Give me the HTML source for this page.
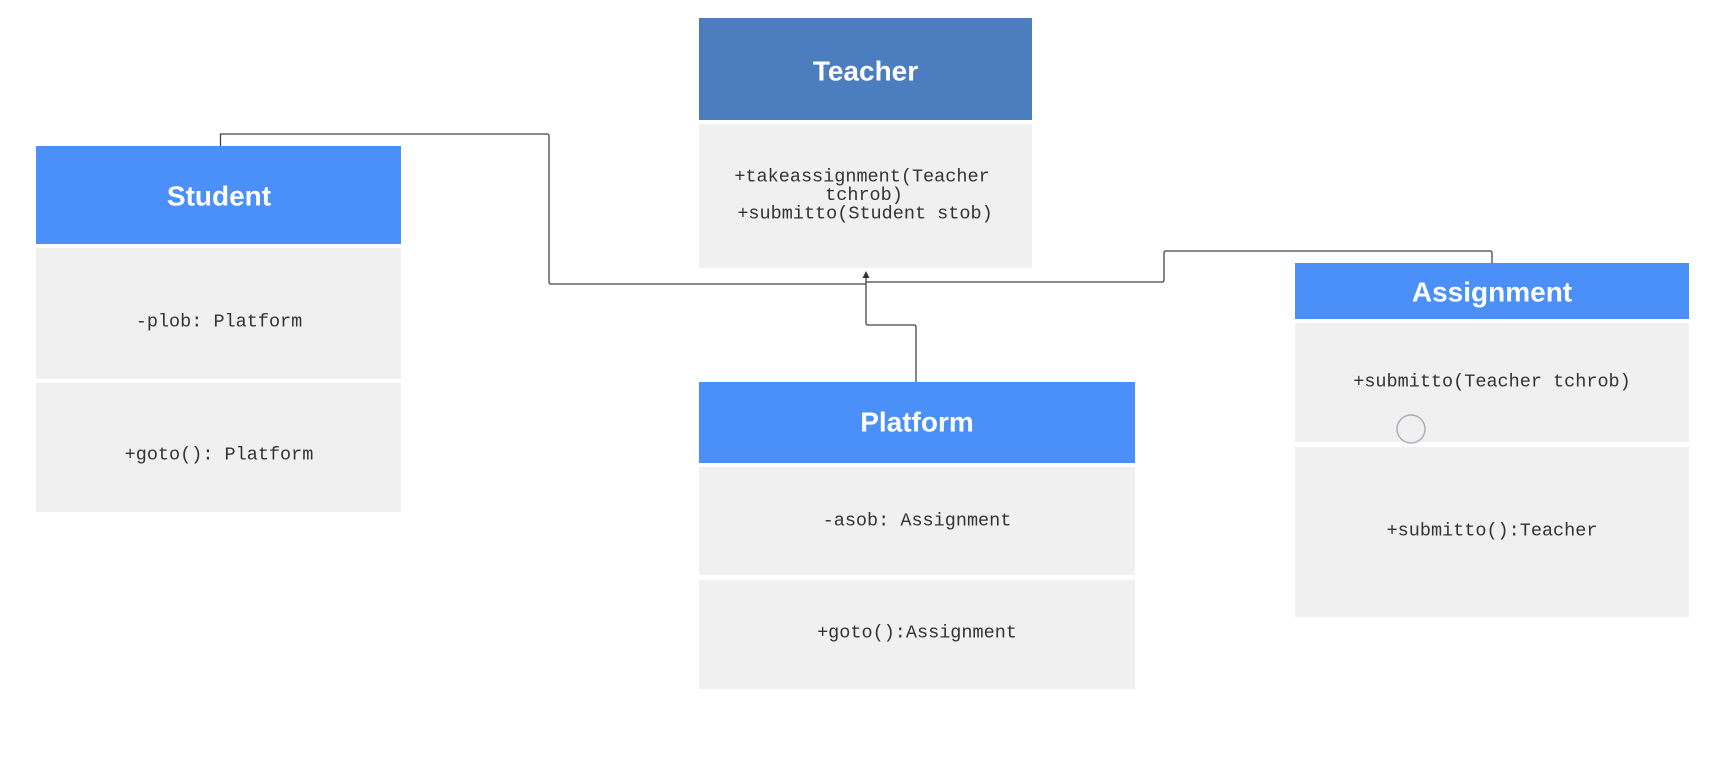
<!DOCTYPE html>
<html><head><meta charset="utf-8"><style>
html,body{margin:0;padding:0;background:#fff;}
svg{display:block;}
.h{font-family:"Liberation Sans",sans-serif;font-weight:bold;font-size:28px;fill:#fff;text-anchor:middle;dominant-baseline:central;}
.m{font-family:"Liberation Mono",monospace;font-size:18.5px;fill:#333;text-anchor:middle;dominant-baseline:central;}
</style></head><body>
<svg width="1712" height="770" viewBox="0 0 1712 770" xmlns="http://www.w3.org/2000/svg">
<rect width="1712" height="770" fill="#fff"/>
<!-- Teacher -->
<rect x="699" y="18" width="333" height="102" fill="#4c7ebf"/>
<rect x="699" y="124" width="333" height="144" fill="#f0f0f0"/>
<text class="h" x="865.5" y="71">Teacher</text>
<text class="m" x="862" y="177">+takeassignment(Teacher</text>
<text class="m" x="864" y="195.5">tchrob)</text>
<text class="m" x="865" y="214">+submitto(Student stob)</text>
<!-- Student -->
<rect x="36" y="146" width="365" height="98" fill="#4a90f8"/>
<rect x="36" y="248" width="365" height="131" fill="#f0f0f0"/>
<rect x="36" y="383" width="365" height="129" fill="#f0f0f0"/>
<text class="h" x="219" y="196">Student</text>
<text class="m" x="219" y="322">-plob: Platform</text>
<text class="m" x="219" y="455">+goto(): Platform</text>
<!-- Platform -->
<rect x="699" y="382" width="436" height="81" fill="#4a90f8"/>
<rect x="699" y="467" width="436" height="108" fill="#f0f0f0"/>
<rect x="699" y="580" width="436" height="109" fill="#f0f0f0"/>
<text class="h" x="917" y="422">Platform</text>
<text class="m" x="917" y="521">-asob: Assignment</text>
<text class="m" x="917" y="633">+goto():Assignment</text>
<!-- Assignment -->
<rect x="1295" y="263" width="394" height="56" fill="#4a90f8"/>
<rect x="1295" y="323" width="394" height="119" fill="#f0f0f0"/>
<rect x="1295" y="447" width="394" height="170" fill="#f0f0f0"/>
<text class="h" x="1492" y="292">Assignment</text>
<text class="m" x="1492" y="382">+submitto(Teacher tchrob)</text>
<text class="m" x="1492" y="531">+submitto():Teacher</text>
<circle cx="1411" cy="429" r="14" fill="none" stroke="#a8adb8" stroke-width="1.5"/>
<!-- connectors -->
<g fill="none" stroke="#444" stroke-width="1.3">
<path d="M220.5 146 V134 H547 Q549 134 549 136 V282 Q549 284 551 284 H866"/>
<path d="M1492 263 V253 Q1492 251 1490 251 H1166 Q1164 251 1164 253 V280 Q1164 282 1162 282 H866"/>
<path d="M916 382 V327 Q916 325 914 325 H868 Q866 325 866 323 V276"/>
</g>
<polygon points="866,271 862.5,278 869.5,278" fill="#333"/>
</svg>
</body></html>
